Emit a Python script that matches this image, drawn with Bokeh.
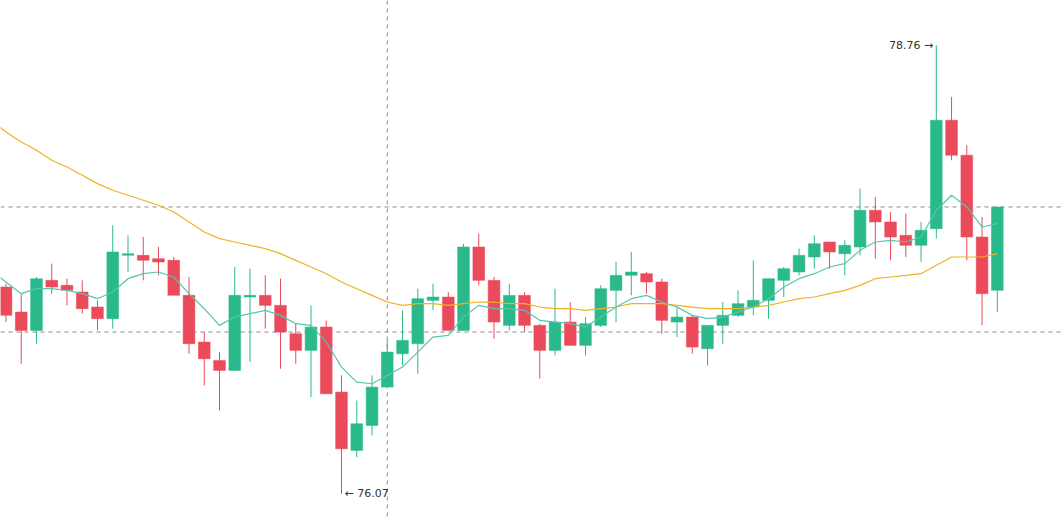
from bokeh.plotting import figure
from bokeh.models import ColumnDataSource, Span, Range1d
from bokeh.core.properties import value
from bokeh.embed import file_html
from bokeh.resources import INLINE

# ---- data ----
opens = [77.31, 77.16, 77.05, 77.35, 77.32, 77.28, 77.19, 77.12, 77.50, 77.50,
         77.48, 77.47, 77.26, 76.98, 76.87, 76.81, 77.25, 77.26, 77.20, 77.03,
         76.93, 77.07, 76.68, 76.33, 76.48, 76.71, 76.91, 76.97, 77.23, 77.25,
         77.05, 77.55, 77.35, 77.08, 77.26, 77.08, 76.93, 77.10, 76.96, 77.08,
         77.29, 77.38, 77.39, 77.34, 77.10, 77.13, 76.94, 77.08, 77.14, 77.19,
         77.23, 77.35, 77.40, 77.49, 77.58, 77.51, 77.55, 77.77, 77.70, 77.62,
         77.56, 77.66, 78.31, 78.10, 77.61, 77.29]
highs = [77.33, 77.27, 77.37, 77.45, 77.36, 77.35, 77.23, 77.68, 77.62, 77.61,
         77.55, 77.49, 77.37, 77.04, 76.92, 77.43, 77.42, 77.38, 77.36, 77.09,
         77.20, 77.11, 76.78, 76.63, 76.78, 76.99, 77.17, 77.30, 77.33, 77.28,
         77.57, 77.63, 77.37, 77.33, 77.28, 77.09, 77.30, 77.22, 77.13, 77.32,
         77.46, 77.52, 77.40, 77.36, 77.19, 77.14, 77.08, 77.22, 77.29, 77.47,
         77.36, 77.43, 77.54, 77.62, 77.58, 77.59, 77.90, 77.85, 77.76, 77.75,
         77.70, 78.76, 78.45, 78.16, 77.73, 77.79]
lows = [77.10, 76.85, 76.97, 77.27, 77.20, 77.15, 77.05, 77.06, 77.40, 77.35,
        77.38, 77.26, 76.91, 76.72, 76.57, 76.81, 76.86, 77.06, 76.82, 76.85,
        76.65, 76.67, 76.07, 76.29, 76.42, 76.71, 76.84, 76.79, 77.17, 77.05,
        77.05, 77.32, 77.00, 77.05, 77.04, 76.76, 76.90, 76.96, 76.90, 77.07,
        77.10, 77.26, 77.27, 77.03, 77.01, 76.91, 76.84, 76.97, 77.13, 77.14,
        77.12, 77.25, 77.38, 77.42, 77.42, 77.38, 77.50, 77.48, 77.47, 77.49,
        77.46, 77.60, 78.07, 77.47, 77.08, 77.16]
closes = [77.14, 77.05, 77.36, 77.31, 77.29, 77.18, 77.12, 77.52, 77.51, 77.47,
          77.46, 77.26, 76.97, 76.88, 76.81, 77.26, 77.26, 77.20, 77.04, 76.93,
          77.07, 76.67, 76.34, 76.49, 76.71, 76.92, 76.99, 77.24, 77.25, 77.05,
          77.55, 77.35, 77.10, 77.26, 77.08, 76.93, 77.10, 76.96, 77.09, 77.30,
          77.38, 77.40, 77.34, 77.11, 77.13, 76.95, 77.08, 77.14, 77.21, 77.23,
          77.36, 77.42, 77.50, 77.57, 77.52, 77.56, 77.77, 77.70, 77.61, 77.56,
          77.65, 78.31, 78.10, 77.61, 77.27, 77.79]
# moving averages: first value belongs to the (off-screen) bar before the first shown bar
ma_short = [77.41,
            77.34, 77.27, 77.30, 77.30, 77.29, 77.27, 77.24, 77.28, 77.36, 77.39,
            77.40, 77.37, 77.27, 77.18, 77.08, 77.13, 77.15, 77.17, 77.14, 77.09,
            77.08, 76.98, 76.83, 76.74, 76.73, 76.78, 76.83, 76.92, 77.01, 77.02,
            77.13, 77.20, 77.18, 77.18, 77.17, 77.11, 77.10, 77.09, 77.07, 77.13,
            77.19, 77.24, 77.26, 77.22, 77.19, 77.14, 77.12, 77.13, 77.16, 77.19,
            77.24, 77.31, 77.36, 77.39, 77.43, 77.45, 77.53, 77.58, 77.59, 77.58,
            77.61, 77.77, 77.86, 77.79, 77.67, 77.69]
ma_long = [78.31,
           78.24, 78.18, 78.13, 78.07, 78.03, 77.98, 77.93, 77.89, 77.86, 77.83,
           77.80, 77.76, 77.70, 77.64, 77.60, 77.58, 77.56, 77.54, 77.51, 77.47,
           77.43, 77.39, 77.34, 77.30, 77.26, 77.22, 77.20, 77.21, 77.21, 77.20,
           77.21, 77.22, 77.22, 77.21, 77.21, 77.19, 77.18, 77.18, 77.17, 77.18,
           77.19, 77.21, 77.21, 77.21, 77.20, 77.19, 77.18, 77.18, 77.18, 77.19,
           77.20, 77.22, 77.24, 77.25, 77.27, 77.29, 77.32, 77.36, 77.37, 77.38,
           77.39, 77.44, 77.49, 77.49, 77.49, 77.51]
ref_level = 77.04
marker_index = 25

UP = "#2ab98b"
DOWN = "#eb4a5a"

idx = list(range(len(opens)))
ma_idx = list(range(-1, len(opens)))
colors = [UP if c >= o else DOWN for o, c in zip(opens, closes)]
src = ColumnDataSource(dict(
    x=idx,
    high=highs, low=lows,
    top=[max(o, c) for o, c in zip(opens, closes)],
    bottom=[min(o, c) for o, c in zip(opens, closes)],
    color=colors,
))

p = figure(width=1063, height=519, output_backend="svg", toolbar_location=None,
           x_axis_location=None, y_axis_location=None, min_border=0,
           x_range=Range1d(-0.36, 69.34), y_range=Range1d(75.916, 79.028))
p.grid.visible = False
p.outline_line_color = None
p.background_fill_color = "white"
p.border_fill_color = "white"

# reference lines
for loc in (closes[-1], ref_level):
    p.add_layout(Span(location=loc, dimension="width", line_color="#8a8a8a",
                      line_dash="4 4", line_width=1, level="underlay"))
p.add_layout(Span(location=marker_index, dimension="height", line_color="#8a8a8a",
                  line_dash="4 4", line_width=1, level="underlay"))

# candles
p.segment(x0="x", y0="high", x1="x", y1="low", color="color", line_width=1, source=src)
p.vbar(x="x", width=0.77, top="top", bottom="bottom", fill_color="color",
       line_color="color", line_width=0.5, source=src)

# moving averages
p.line(ma_idx, ma_long, line_color="#f0b323", line_width=1.2)
p.line(ma_idx, ma_short, line_color="#55c6b0", line_width=1.2)

# high / low labels
hi_i = highs.index(max(highs))
lo_i = lows.index(min(lows))
p.text(x=[hi_i], y=[highs[hi_i]], text=[f"{highs[hi_i]:.2f} \u2192"],
       text_align="right", text_baseline="middle", x_offset=-3,
       text_font=value("DejaVu Sans"), text_font_size="11px", text_color="#333333")
p.text(x=[lo_i], y=[lows[lo_i]], text=[f"\u2190 {lows[lo_i]:.2f}"],
       text_align="left", text_baseline="middle", x_offset=3,
       text_font=value("DejaVu Sans"), text_font_size="11px", text_color="#333333")

open("out.html", "w").write(file_html(p, INLINE))
